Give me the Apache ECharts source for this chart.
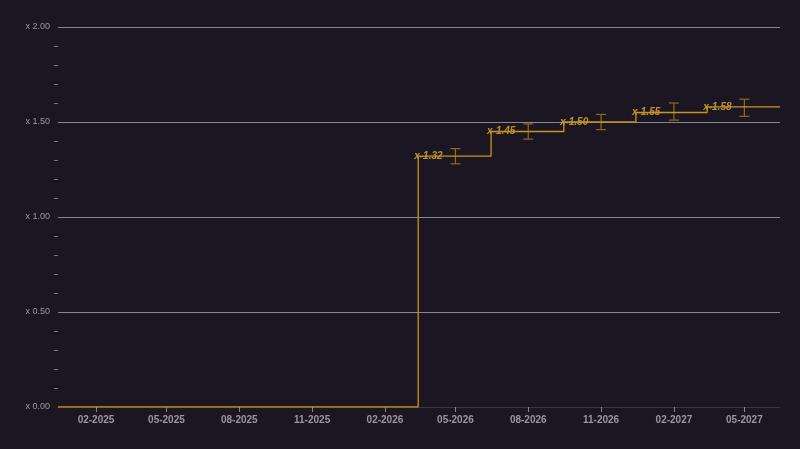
<!DOCTYPE html>
<html><head><meta charset="utf-8">
<script src="https://cdn.jsdelivr.net/npm/echarts@6/dist/echarts.min.js"></script>
<style>html,body{margin:0;background:#1b1621}#c{width:800px;height:449px}</style>
</head><body><div id="c"></div>
<script>
var stepDates = ['2024-12-15', '2026-03-15', '2026-06-15', '2026-09-15', '2026-12-15', '2027-03-15', '2027-06-15'];
var stepValues = [0, 1.32, 1.45, 1.50, 1.55, 1.58, 1.58];
var barDates = ['2026-05-01', '2026-08-01', '2026-11-01', '2027-02-01', '2027-05-01'];
var barLow = [1.28, 1.41, 1.46, 1.51, 1.53];
var barHigh = [1.36, 1.49, 1.54, 1.60, 1.62];
var tickDates = ['2025-02-01','2025-05-01','2025-08-01','2025-11-01','2026-02-01','2026-05-01','2026-08-01','2026-11-01','2027-02-01','2027-05-01'];

function t(d) { return Date.UTC(+d.slice(0, 4), +d.slice(5, 7) - 1, +d.slice(8, 10)); }
var tickTimes = tickDates.map(t);

var chart = echarts.init(document.getElementById('c'));
var lineData = stepDates.map(function (d, i) { return [t(d), stepValues[i]]; });
var labelData = [];
for (var i = 1; i < stepDates.length - 1; i++) labelData.push([t(stepDates[i]), stepValues[i]]);

chart.setOption({
    backgroundColor: '#1b1621',
    animation: false,
    grid: { left: 58, right: 20, top: 27, bottom: 42 },
    xAxis: {
        type: 'value',
        min: t('2024-12-15'), max: t('2027-06-15'),
        axisLine: { lineStyle: { color: '#3a3540' } },
        splitLine: { show: false },
        axisLabel: {
            color: '#9a97a0', fontSize: 10, fontWeight: 'bold',
            customValues: tickTimes,
            formatter: function (v) { var d = new Date(v); var m = d.getUTCMonth() + 1; return (m < 10 ? '0' : '') + m + '-' + d.getUTCFullYear(); }
        },
        axisTick: { show: true, customValues: tickTimes, lineStyle: { color: '#888' } }
    },
    yAxis: {
        type: 'value', min: 0, max: 2, interval: 0.5,
        axisLine: { show: false },
        axisTick: { show: false },
        minorTick: { show: true, splitNumber: 5, length: 4, lineStyle: { color: '#777' } },
        splitLine: { lineStyle: { color: '#8a8690', width: 1 } },
        axisLabel: { color: '#9a97a0', fontSize: 9, formatter: function (v) { return 'x ' + v.toFixed(2); } }
    },
    series: [
        {
            type: 'line', step: 'end', data: lineData, symbol: 'none',
            lineStyle: { color: '#c7951f', width: 1.3 }
        },
        {
            type: 'custom',
            data: barDates.map(function (d, i) { return [t(d), barLow[i], barHigh[i]]; }),
            renderItem: function (params, api) {
                var lo = api.coord([api.value(0), api.value(1)]);
                var hi = api.coord([api.value(0), api.value(2)]);
                var s = { stroke: '#8c6c22', lineWidth: 1.2 };
                return { type: 'group', children: [
                    { type: 'line', shape: { x1: lo[0], y1: lo[1], x2: hi[0], y2: hi[1] }, style: s },
                    { type: 'line', shape: { x1: lo[0] - 5, y1: lo[1], x2: lo[0] + 5, y2: lo[1] }, style: s },
                    { type: 'line', shape: { x1: hi[0] - 5, y1: hi[1], x2: hi[0] + 5, y2: hi[1] }, style: s }
                ] };
            }
        },
        {
            type: 'scatter', data: labelData, symbolSize: 0,
            label: {
                show: true, position: 'right', distance: -4,
                color: '#e3b232', fontStyle: 'italic', fontSize: 10, fontWeight: 'bold',
                formatter: function (p) { return 'x-' + p.value[1].toFixed(2); }
            }
        }
    ]
});
</script></body></html>
